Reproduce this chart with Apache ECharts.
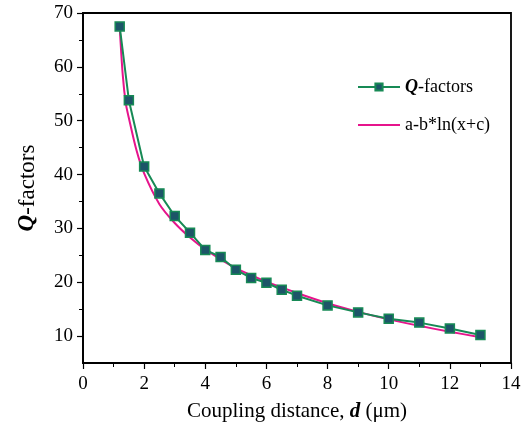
<!DOCTYPE html>
<html>
<head>
<meta charset="utf-8">
<script src="https://cdn.jsdelivr.net/npm/echarts@6/dist/echarts.min.js"></script>
<style>
html,body{margin:0;padding:0;background:#fff;}
#chart{width:528px;height:425px;}
</style>
</head>
<body>
<div id="chart"></div>
<script>
// measured Q-factors vs coupling distance d (um)
var distances = [1.2, 1.5, 2, 2.5, 3, 3.5, 4, 4.5, 5, 5.5, 6, 6.5, 7, 8, 9, 10, 11, 12, 13];
var qValues = [67.5, 53.8, 41.5, 36.5, 32.3, 29.2, 26.0, 24.7, 22.3, 20.8, 19.9, 18.6, 17.5, 15.7, 14.4, 13.2, 12.5, 11.4, 10.2];
// fitted curve a-b*ln(x+c)
var fitX = [1.2, 1.3, 1.4, 1.5, 1.75, 2, 2.5, 3, 3.5, 4, 5, 6, 7, 8, 9, 10, 11, 12, 13];
var fitY = [67.5, 58.5, 53.2, 50.5, 44.5, 40.2, 34.5, 31.0, 28.3, 26.1, 22.6, 20.1, 18.0, 16.1, 14.5, 13.1, 11.9, 10.8, 9.8];
// y axis ticks
var yMajor = [10, 20, 30, 40, 50, 60, 70];
var yMinor = [15, 25, 35, 45, 55, 65];

function pairs(xs, ys) {
	var out = [];
	for (var i = 0; i < xs.length; i++) out.push([xs[i], ys[i]]);
	return out;
}

var myChart = echarts.init(document.getElementById('chart'));
var font = 'Liberation Serif, Times New Roman, serif';
var option = {
	animation: false,
	textStyle: {fontFamily: font},
	grid: {
		left: 83, right: 17, top: 13, bottom: 62,
		outerBoundsMode: 'none', containLabel: false,
		show: true, borderColor: '#000', borderWidth: 1.8, backgroundColor: 'transparent'
	},
	legend: {
		orient: 'vertical',
		left: 352, top: 73,
		itemGap: 20,
		itemWidth: 42, itemHeight: 9,
		textStyle: {
			fontFamily: font, fontSize: 18, color: '#000',
			rich: {
				q: {fontFamily: font, fontSize: 18, fontWeight: 'bold', fontStyle: 'italic', color: '#000'},
				t: {fontFamily: font, fontSize: 18, color: '#000'}
			}
		},
		formatter: function (name) {
			if (name === 'Q-factors') return '{q|Q}{t|-factors}';
			return '{t|' + name + '}';
		},
		data: [
			{name: 'Q-factors'},
			{name: 'a-b*ln(x+c)', itemStyle: {opacity: 0}}
		]
	},
	xAxis: {
		type: 'value', min: 0, max: 14, interval: 2,
		name: '{t|Coupling distance, }{b|d}{t| (\u03bcm)}',
		nameLocation: 'middle', nameGap: 38,
		nameTextStyle: {
			rich: {
				t: {fontFamily: font, fontSize: 21, color: '#000'},
				b: {fontFamily: font, fontSize: 21, fontWeight: 'bold', fontStyle: 'italic', color: '#000'}
			}
		},
		axisLine: {lineStyle: {color: '#000', width: 1.8}},
		axisTick: {length: 6, lineStyle: {color: '#000', width: 1.2}},
		minorTick: {show: true, splitNumber: 2, length: 4, lineStyle: {color: '#000', width: 1}},
		axisLabel: {color: '#000', fontSize: 19, fontFamily: font, margin: 12},
		splitLine: {show: false}
	},
	yAxis: [
		{
			type: 'value', min: 5, max: 70,
			name: '{b|Q}{t|-factors}',
			nameLocation: 'middle', nameGap: 44, nameRotate: 90,
			nameTextStyle: {
				rich: {
					t: {fontFamily: font, fontSize: 23, color: '#000'},
					b: {fontFamily: font, fontSize: 23, fontWeight: 'bold', fontStyle: 'italic', color: '#000'}
				}
			},
			axisLine: {show: true, lineStyle: {color: '#000', width: 1.8}},
			axisTick: {show: true, length: 6, customValues: yMajor, lineStyle: {color: '#000', width: 1.2}},
			axisLabel: {color: '#000', fontSize: 19, fontFamily: font, margin: 10, customValues: yMajor},
			splitLine: {show: false}
		},
		{
			type: 'value', min: 5, max: 70, position: 'left', offset: 0,
			axisLine: {show: false},
			axisTick: {show: true, length: 4, customValues: yMinor, lineStyle: {color: '#000', width: 1}},
			axisLabel: {show: false},
			splitLine: {show: false}
		}
	],
	series: [
		{
			name: 'Q-factors',
			type: 'line',
			data: pairs(distances, qValues),
			symbol: 'rect', symbolSize: 9,
			lineStyle: {color: '#178a55', width: 2},
			itemStyle: {color: '#1d5568', borderColor: '#178a55', borderWidth: 1.5},
			z: 3
		},
		{
			name: 'a-b*ln(x+c)',
			type: 'line',
			data: pairs(fitX, fitY),
			smooth: 0.3,
			showSymbol: false, symbol: 'none',
			lineStyle: {color: '#e6148c', width: 2},
			itemStyle: {color: '#e6148c'},
			z: 2
		}
	]
};
myChart.setOption(option);
</script>
</body>
</html>
